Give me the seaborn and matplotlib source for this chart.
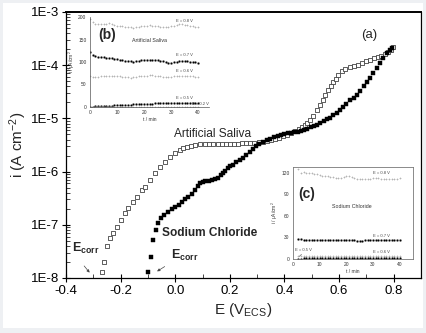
import numpy as np
import pandas as pd
import matplotlib
matplotlib.use("Agg")
import matplotlib.pyplot as plt
from matplotlib.patches import Rectangle
from matplotlib.ticker import FixedLocator, MultipleLocator, LogLocator, NullFormatter
import seaborn as sns

# ---------------- data ----------------
# Artificial saliva (open squares): potential (V_ECS) and log10(i / A cm^-2)
saliva_E = [-0.268, -0.261, -0.250, -0.239, -0.228, -0.213, -0.199, -0.184, -0.173, -0.155,
            -0.140, -0.122, -0.111, -0.092, -0.074, -0.056, -0.037, -0.019, -0.001, 0.018,
            0.030, 0.043, 0.058, 0.073, 0.090, 0.109, 0.125, 0.140, 0.155, 0.170,
            0.185, 0.200, 0.215, 0.230, 0.245, 0.260, 0.275, 0.290, 0.305, 0.320,
            0.335, 0.350, 0.365, 0.380, 0.395, 0.410, 0.425, 0.440, 0.452, 0.464,
            0.474, 0.484, 0.494, 0.506, 0.519, 0.530, 0.541, 0.550, 0.560, 0.569,
            0.578, 0.587, 0.596, 0.609, 0.622, 0.640, 0.655, 0.670, 0.685, 0.700,
            0.714, 0.728, 0.742, 0.755, 0.768, 0.780, 0.790, 0.798]
saliva_logi = [-7.89, -7.70, -7.40, -7.25, -7.15, -7.04, -6.91, -6.78, -6.68, -6.57,
               -6.48, -6.35, -6.29, -6.16, -6.03, -5.91, -5.82, -5.73, -5.65, -5.59,
               -5.56, -5.54, -5.52, -5.50, -5.49, -5.48, -5.48, -5.48, -5.48, -5.48,
               -5.48, -5.48, -5.48, -5.48, -5.47, -5.47, -5.46, -5.46, -5.45, -5.44,
               -5.42, -5.40, -5.38, -5.36, -5.33, -5.31, -5.28, -5.24, -5.20, -5.16,
               -5.12, -5.08, -5.03, -4.95, -4.84, -4.75, -4.65, -4.56, -4.47, -4.39,
               -4.32, -4.25, -4.18, -4.11, -4.07, -4.04, -4.01, -3.99, -3.96, -3.93,
               -3.90, -3.87, -3.85, -3.82, -3.79, -3.75, -3.71, -3.66]

# Sodium chloride (filled squares)
nacl_E = [-0.100, -0.089, -0.081, -0.072, -0.062, -0.052, -0.040, -0.026, -0.013, -0.001,
          0.012, 0.025, 0.037, 0.047, 0.060, 0.073, 0.082, 0.091, 0.100, 0.109,
          0.122, 0.135, 0.147, 0.157, 0.166, 0.175, 0.184, 0.193, 0.202, 0.212,
          0.224, 0.236, 0.248, 0.260, 0.272, 0.284, 0.296, 0.308, 0.322, 0.335,
          0.348, 0.362, 0.375, 0.388, 0.400, 0.412, 0.424, 0.436, 0.448, 0.460,
          0.472, 0.484, 0.496, 0.508, 0.519, 0.531, 0.543, 0.555, 0.567, 0.579,
          0.591, 0.603, 0.615, 0.627, 0.640, 0.653, 0.666, 0.678, 0.690, 0.702,
          0.714, 0.726, 0.738, 0.750, 0.762, 0.776, 0.786, 0.794]
nacl_logi = [-7.89, -7.61, -7.29, -7.10, -6.97, -6.88, -6.81, -6.75, -6.70, -6.66,
             -6.62, -6.57, -6.52, -6.48, -6.42, -6.35, -6.28, -6.21, -6.19, -6.18,
             -6.17, -6.16, -6.14, -6.12, -6.07, -6.03, -5.98, -5.93, -5.90, -5.87,
             -5.82, -5.79, -5.75, -5.69, -5.63, -5.57, -5.52, -5.48, -5.45, -5.41,
             -5.38, -5.35, -5.33, -5.31, -5.29, -5.28, -5.27, -5.26, -5.25, -5.23,
             -5.21, -5.19, -5.17, -5.14, -5.12, -5.08, -5.05, -5.02, -4.99, -4.94,
             -4.89, -4.84, -4.79, -4.72, -4.66, -4.61, -4.56, -4.48, -4.39, -4.32,
             -4.24, -4.15, -4.06, -3.96, -3.87, -3.77, -3.72, -3.68]

x_ticks = [-0.4, -0.2, 0.0, 0.2, 0.4, 0.6, 0.8]
x_ticklabels = ["-0.4", "-0.2", "0.0", "0.2", "0.4", "0.6", "0.8"]
y_ticks = [1e-8, 1e-7, 1e-6, 1e-5, 1e-4, 1e-3]
y_ticklabels = ["1E-8", "1E-7", "1E-6", "1E-5", "1E-4", "1E-3"]

# Inset (b): artificial saliva, i (uA/cm2) vs t (min)
b_t = list(range(0, 41))
b_08 = [195, 188, 185, 184, 185, 184, 185, 186, 185, 183, 181, 180, 179, 178, 177, 177, 176, 177, 178, 180,
        181, 181, 182, 181, 180, 179, 178, 177, 177, 178, 179, 181, 183, 184, 184, 183, 182, 180, 179, 178, 178]
b_07 = [122, 116, 113, 112, 112, 111, 110, 109, 108, 107, 106, 105, 104, 103, 102, 102, 101, 102, 103, 104,
        104, 105, 105, 105, 104, 104, 103, 102, 100, 98, 97, 99, 101, 102, 103, 103, 102, 101, 100, 99, 98]
b_06 = [68, 66, 66, 67, 68, 68, 69, 69, 70, 70, 69, 68, 67, 66, 66, 65, 66, 67, 68, 69,
        70, 70, 71, 71, 70, 69, 68, 67, 66, 66, 67, 68, 69, 70, 70, 70, 69, 68, 68, 67, 67]
b_05 = [1, 1, 2, 2, 2, 3, 3, 3, 3, 4, 4, 4, 5, 5, 5, 5, 6, 6, 6, 6,
        7, 7, 7, 7, 8, 8, 8, 8, 8, 9, 9, 9, 9, 9, 10, 10, 10, 10, 10, 10, 10]
b_02 = [0.5, 0.5, 0.5, 0.6, 0.6, 0.6, 0.6, 0.7, 0.7, 0.7, 0.7, 0.7, 0.8, 0.8, 0.8, 0.8, 0.8, 0.8, 0.9, 0.9,
        0.9, 0.9, 0.9, 0.9, 1.0, 1.0, 1.0, 1.0, 1.0, 1.0, 1.0, 1.0, 1.1, 1.1, 1.1, 1.1, 1.1, 1.1, 1.1, 1.1, 1.1]

# Inset (c): sodium chloride
c_t = list(range(2, 41))
c_08 = [125, 120, 121, 119, 120, 119, 118, 118, 117, 116, 115, 115, 114, 114, 113, 113, 113, 114, 115, 115,
        114, 113, 112, 111, 111, 111, 112, 112, 113, 113, 113, 112, 112, 111, 111, 111, 112, 112, 113]
c_07 = [28, 27.5, 27, 27, 27, 26.5, 26.5, 26.5, 26.5, 26, 26, 26, 26, 26, 26, 26, 26, 26, 26, 26,
        26, 26, 25.5, 25.5, 25.5, 26, 26, 26, 26, 26, 26, 26, 26, 26, 26, 26, 26, 26, 26]
c_06 = [4, 4, 4, 4, 4, 4, 4, 4, 4, 4, 4, 4, 4, 4, 4, 4, 4, 4, 4, 4,
        4, 4, 4, 4, 4, 4, 4, 4, 4, 4, 4, 4, 4, 4, 4, 4, 4, 4, 4]
c_05 = [0.5, 0.6, 0.7, 0.8, 0.8, 0.9, 0.9, 1.0, 1.0, 1.0, 1.0, 1.0, 1.0, 1.0, 1.0, 1.0, 1.0, 1.0, 1.0, 1.0,
        1.0, 1.0, 1.0, 1.0, 1.0, 1.0, 1.0, 1.0, 1.0, 1.0, 1.0, 1.0, 1.0, 1.0, 1.0, 1.0, 1.0, 1.0, 1.0]

# ---------------- style ----------------
sns.set_theme(style="white")
plt.rcParams["font.family"] = ["Liberation Sans", "DejaVu Sans"]
plt.rcParams["mathtext.fontset"] = "custom"
plt.rcParams["mathtext.rm"] = "Liberation Sans"
plt.rcParams["mathtext.it"] = "Liberation Sans"
plt.rcParams["mathtext.bf"] = "Liberation Sans:bold"

W, H = 426, 333
fig = plt.figure(figsize=(W / 100, H / 100), dpi=100, facecolor="#eef0f3")
fig.patches.append(Rectangle((3 / W, 5 / H), 420 / W, 325 / H, transform=fig.transFigure,
                             facecolor="white", edgecolor="none", zorder=-10))

ax = fig.add_axes([66 / W, 1 - 278 / H, (421 - 66) / W, (278 - 12) / H])
ax.set_facecolor("none")

df_s = pd.DataFrame({"E": saliva_E, "i": np.power(10.0, saliva_logi)})
df_n = pd.DataFrame({"E": nacl_E, "i": np.power(10.0, nacl_logi)})

sns.scatterplot(data=df_s, x="E", y="i", ax=ax, marker="s", s=8, color="white",
                edgecolor="#444444", linewidth=0.6, zorder=3)
sns.scatterplot(data=df_n, x="E", y="i", ax=ax, marker="s", s=10, color="black",
                edgecolor="black", linewidth=0.3, zorder=3)

ax.set_yscale("log")
ax.set_xlim(-0.4, 0.9)
ax.set_ylim(1e-8, 1e-3)
ax.xaxis.set_major_locator(FixedLocator(x_ticks))
ax.set_xticklabels(x_ticklabels)
ax.xaxis.set_minor_locator(MultipleLocator(0.1))
ax.yaxis.set_major_locator(FixedLocator(y_ticks))
ax.set_yticklabels(y_ticklabels)
ax.yaxis.set_minor_locator(LogLocator(base=10, subs=np.arange(2, 10)))
ax.yaxis.set_minor_formatter(NullFormatter())
ax.tick_params(axis="both", which="major", direction="inout", length=6, width=0.8,
               labelsize=9.5, colors="black", bottom=True, left=True, top=False, right=False, pad=2)
ax.tick_params(axis="both", which="minor", direction="in", length=3, width=0.6,
               bottom=True, left=True, top=False, right=False)
for sp in ax.spines.values():
    sp.set_color("black")
    sp.set_linewidth(0.9)
    sp.set_visible(True)
ax.spines["top"].set_linewidth(1.4)
ax.set_xlabel(r"E (V$_{\mathrm{ECS}}$)", fontsize=11, labelpad=3)
ax.set_ylabel(r"i (A cm$^{\mathrm{-2}}$)", fontsize=11, labelpad=1)

# annotations
ax.text(0.136, 3.9e-6, "Artificial Saliva", fontsize=8.6, ha="center", va="bottom")
ax.text(0.125, 7.0e-8, "Sodium Chloride", fontsize=8.6, fontweight="bold", ha="center", va="center")
ax.text(0.71, 3.7e-4, "(a)", fontsize=9.5, ha="center", va="center")
ax.text(-0.378, 3.6e-8, r"$\mathbf{E_{corr}}$", fontsize=9, ha="left", va="center")
ax.text(-0.015, 2.6e-8, r"$\mathbf{E_{corr}}$", fontsize=9, ha="left", va="center")
ax.annotate("", xy=(-0.307, 1.15e-8), xytext=(-0.34, 1.85e-8),
            arrowprops=dict(arrowstyle="-|>", color="#444444", lw=0.5, mutation_scale=4))
ax.annotate("", xy=(-0.075, 1.25e-8), xytext=(-0.03, 1.75e-8),
            arrowprops=dict(arrowstyle="-|>", color="#444444", lw=0.5, mutation_scale=4))

# ---------------- inset (b) ----------------
gray = "#b4b4b4"
axb = fig.add_axes([90 / W, 1 - 107 / H, 119 / W, 90 / H])
axb.set_facecolor("none")
for vals, col, mk, ms in [(b_08, gray, "+", 1.6), (b_07, "black", "s", 0.9),
                          (b_06, gray, "+", 1.6), (b_05, "black", "s", 0.9), (b_02, gray, "+", 1.6)]:
    sns.lineplot(x=b_t, y=vals, ax=axb, color=col, marker=mk, markersize=ms, linestyle="none",
                 markeredgewidth=0.5, markeredgecolor=col)
axb.set_xlim(0, 44)
axb.set_ylim(0, 200)
axb.set_xticks([0, 10, 20, 30, 40])
axb.set_yticks([0, 50, 100, 150, 200])
axb.tick_params(labelsize=3.5, length=1.5, width=0.4, pad=1, direction="out", colors="#333333")
for s in ["top", "right"]:
    axb.spines[s].set_visible(False)
for s in ["left", "bottom"]:
    axb.spines[s].set_color("#555555")
    axb.spines[s].set_linewidth(0.5)
axb.set_xlabel("t / min", fontsize=3.5, labelpad=1, color="#333333")
axb.set_ylabel(r"i / $\mu$A/cm$^2$", fontsize=3.5, labelpad=1, color="#333333")
axb.text(6.5, 159, "(b)", fontsize=10, fontweight="bold", ha="center", va="center")
axb.text(22, 148, "Artificial Saliva", fontsize=3.8, ha="center", va="center", color="#333333")
for tx, ty, lab in [(35, 191, "E = 0.8 V"), (35, 116, "E = 0.7 V"), (35, 80, "E = 0.6 V"),
                    (35, 19, "E = 0.5 V"), (41, 6, "E = 0.2 V")]:
    axb.text(tx, ty, lab, fontsize=3, ha="center", va="center", color="#444444")

# ---------------- inset (c) ----------------
axc = fig.add_axes([293 / W, 1 - 259 / H, 120 / W, 92 / H])
axc.set_facecolor("white")
for vals, col, mk, ms in [(c_08, gray, "+", 1.6), (c_07, "black", "s", 0.9),
                          (c_06, gray, "+", 1.6), (c_05, "black", "s", 0.9)]:
    sns.lineplot(x=c_t, y=vals, ax=axc, color=col, marker=mk, markersize=ms, linestyle="none",
                 markeredgewidth=0.5, markeredgecolor=col)
axc.set_xlim(0, 45)
axc.set_ylim(0, 128)
axc.set_xticks([0, 10, 20, 30, 40])
axc.set_yticks([0, 30, 60, 90, 120])
axc.tick_params(labelsize=3.5, length=1.5, width=0.4, pad=1, direction="out", colors="#333333")
for s in axc.spines.values():
    s.set_color("#777777")
    s.set_linewidth(0.6)
axc.set_xlabel("t / min", fontsize=3.5, labelpad=1, color="#333333")
axc.set_ylabel(r"i / $\mu$A/cm$^2$", fontsize=3.5, labelpad=1, color="#333333")
axc.text(5, 91, "(c)", fontsize=10, fontweight="bold", ha="center", va="center")
axc.text(22, 73, "Sodium Chloride", fontsize=3.8, ha="center", va="center", color="#333333")
for tx, ty, lab in [(33, 119, "E = 0.8 V"), (33, 32, "E = 0.7 V"), (33, 10, "E = 0.6 V"),
                    (4, 12, "E = 0.5 V")]:
    axc.text(tx, ty, lab, fontsize=3, ha="center", va="center", color="#444444")
axc.annotate("", xy=(1.5, 1), xytext=(4, 9),
             arrowprops=dict(arrowstyle="-", color="#444444", lw=0.4))

fig.savefig("out.png", dpi=100, facecolor=fig.get_facecolor())
